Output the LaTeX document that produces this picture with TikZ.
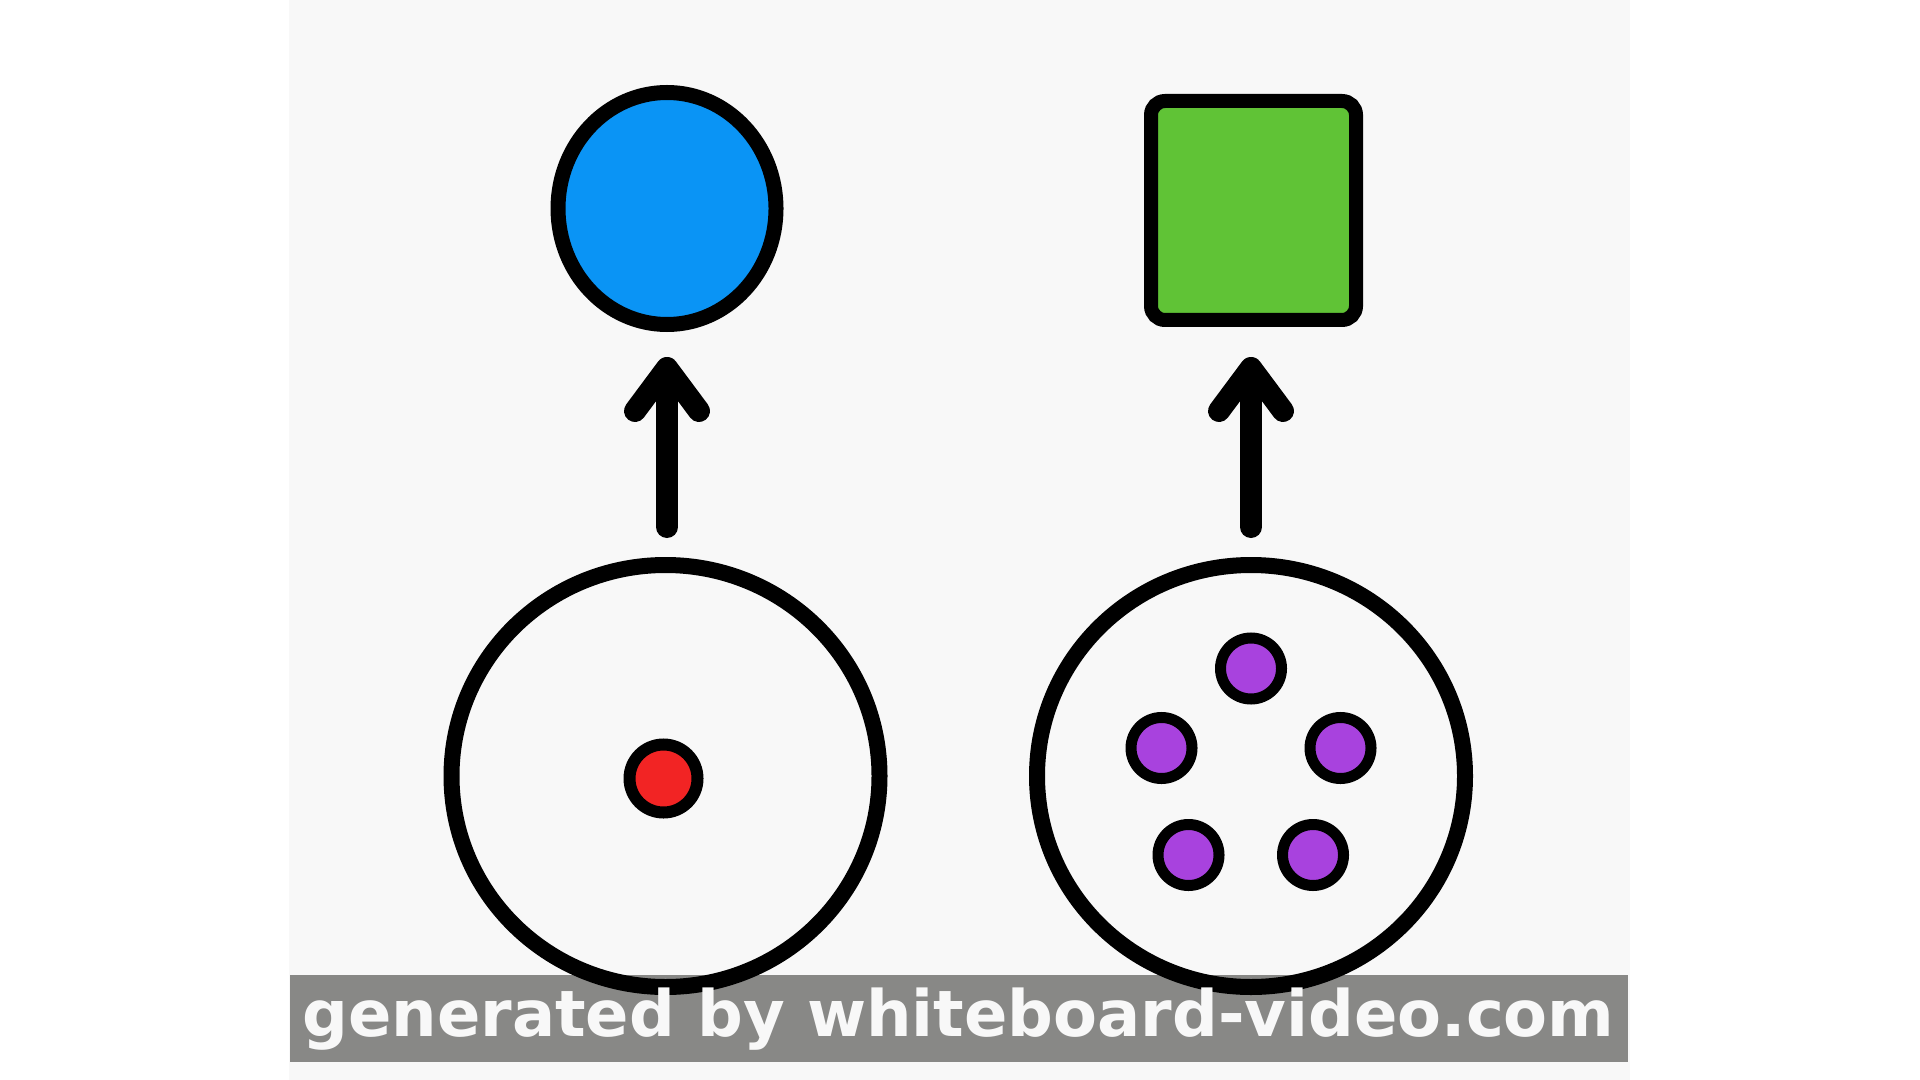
\documentclass[tikz,border=0pt]{standalone}
\usepackage{fontspec}
\newfontfamily\bannerfont{DejaVu Sans}
\usetikzlibrary{shapes.geometric}
\definecolor{panel}{RGB}{248,248,248}
\definecolor{bluefill}{RGB}{10,148,245}
\definecolor{greenfill}{RGB}{96,195,54}
\definecolor{redfill}{RGB}{242,36,36}
\definecolor{purplefill}{RGB}{168,66,222}
\definecolor{bannergray}{RGB}{136,136,134}
\definecolor{bannertext}{RGB}{248,248,248}
\begin{document}
\begin{tikzpicture}[x=0.5pt,y=-0.5pt,
  every node/.style={outer sep=0pt, inner sep=0pt},
  bigring/.style={ellipse, draw=black, line width=8pt, minimum width=214pt, minimum height=211pt},
  bluedisc/.style={ellipse, draw=black, fill=bluefill, line width=7.5pt, minimum width=109pt, minimum height=116pt},
  greenbox/.style={rectangle, rounded corners=7pt, draw=black, fill=greenfill, line width=7pt, minimum width=102.5pt, minimum height=109.5pt},
  reddot/.style={circle, draw=black, fill=redfill, line width=6pt, minimum size=34pt},
  purpledot/.style={circle, draw=black, fill=purplefill, line width=5.5pt, minimum size=30.5pt},
  shaft/.style={draw=black, line width=11pt, line cap=round, shorten <=19pt, shorten >=25pt},
  barb/.style={draw=black, line width=11pt, line cap=round, line join=round},
  credit/.style={font=\bannerfont\bfseries\fontsize{32pt}{36pt}\selectfont, text=bannertext, anchor=base}
]
\useasboundingbox (0,0) rectangle (1920,1080);
\fill[white] (0,0) rectangle (1920,1080);
\fill[panel] (289,0) rectangle (1630,1080);
\fill[bannergray] (290,975) rectangle (1628,1062);

\node[bluedisc] (blue) at (667,208.5) {};
\node[greenbox] (green) at (1253.5,210.5) {};

\node[bigring] (bigL) at (665.5,776) {};
\node[bigring] (bigR) at (1251,776) {};

\node[reddot] (red) at (663.5,778.5) {};

\node[purpledot] (p1) at (1251,668.5) {};
\node[purpledot] (p2) at (1161.5,748) {};
\node[purpledot] (p3) at (1340.5,748) {};
\node[purpledot] (p4) at (1188.5,855) {};
\node[purpledot] (p5) at (1313,855) {};

\coordinate (tipL) at ([yshift=-21.75pt]blue.south);
\coordinate (tipR) at (tipL -| bigR.north);

\draw[shaft] (bigL.north -| blue.south) -- (blue.south);
\draw[barb] ([shift={(-32,43)}]tipL) -- (tipL) -- ([shift={(32,43)}]tipL);

\draw[shaft] (bigR.north) -- (blue.south -| bigR.north);
\draw[barb] ([shift={(-32,43)}]tipR) -- (tipR) -- ([shift={(32,43)}]tipR);

\node[credit] (banner) at (958.5,1036) {generated by whiteboard-video.com};
\end{tikzpicture}
\end{document}
